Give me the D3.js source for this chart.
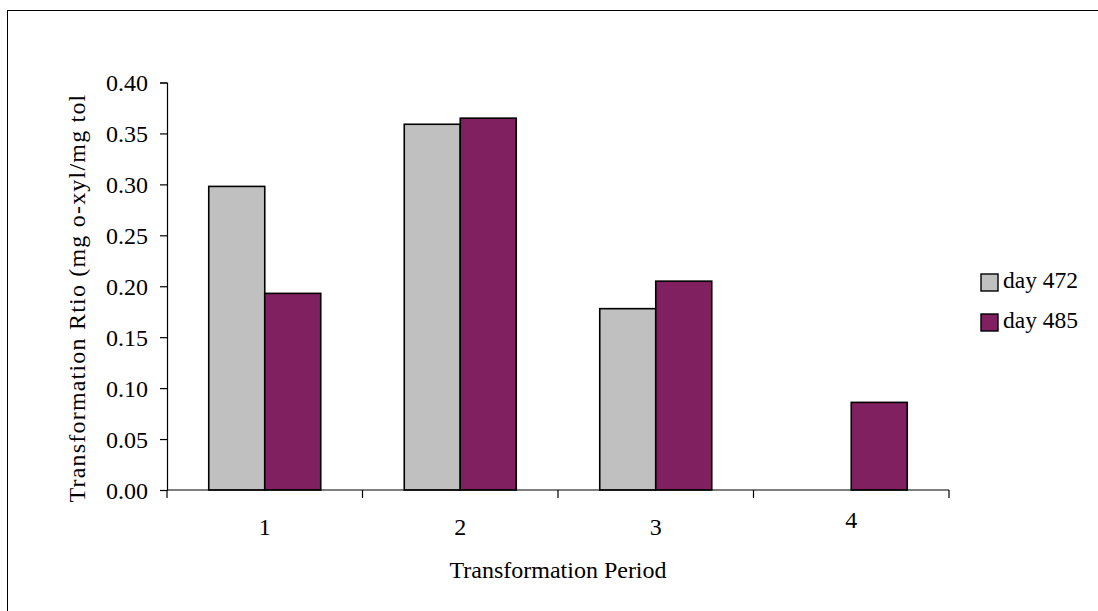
<!DOCTYPE html>
<html>
<head>
<meta charset="utf-8">
<script src="https://cdn.jsdelivr.net/npm/d3@7"></script>
<style>
  html, body { margin: 0; padding: 0; background: #fff; }
  svg { display: block; }
  text { font-family: "Liberation Serif", "Times New Roman", serif; fill: #000; }
</style>
</head>
<body>
<svg id="chart" width="1098" height="611"></svg>
<script>
// Transformation ratio per period for the two sampling days
const periods = ["1", "2", "3", "4"];
const seriesNames = ["day 472", "day 485"];
const day472 = [0.298, 0.359, 0.178, null];
const day485 = [0.193, 0.365, 0.205, 0.086];
const yTicks = [0, 0.05, 0.10, 0.15, 0.20, 0.25, 0.30, 0.35, 0.40];
const colors = ["#c0c0c0", "#802060"];

const svg = d3.select("#chart");
const FONT = 24;

// outer chart-area frame
svg.append("rect")
  .attr("x", 7.5).attr("y", 10.5)
  .attr("width", 1100).attr("height", 620)
  .attr("fill", "none").attr("stroke", "#000").attr("stroke-width", 1);

const plot = { left: 167, right: 949, top: 82.5, bottom: 490 };

const x = d3.scaleBand().domain(periods).range([plot.left, plot.right]).paddingInner(0).paddingOuter(0);
const y = d3.scaleLinear().domain([0, 0.4]).range([plot.bottom, plot.top]);
const barW = 56;

const series = [day472, day485];
series.forEach((vals, si) => {
  svg.append("g").selectAll("rect")
    .data(periods.map((p, i) => ({ p, v: vals[i] })).filter(d => d.v != null))
    .join("rect")
    .attr("x", d => x(d.p) + x.bandwidth() / 2 - barW + si * barW)
    .attr("y", d => y(d.v))
    .attr("width", barW)
    .attr("height", d => y(0) - y(d.v))
    .attr("fill", colors[si])
    .attr("stroke", "#000")
    .attr("stroke-width", 1.6);
});

// y axis
const yAxis = d3.axisLeft(y).tickValues(yTicks).tickFormat(d3.format(".2f")).tickSize(7).tickPadding(12);
const gy = svg.append("g").attr("transform", `translate(${plot.left},0)`).call(yAxis);
gy.select(".domain").attr("stroke", "#000").attr("stroke-width", 1.2);
gy.selectAll(".tick line").attr("stroke", "#000").attr("stroke-width", 1.2);
gy.selectAll(".tick text").attr("font-size", FONT).attr("font-family", "Liberation Serif").attr("dy", "0.34em");

// x axis: ticks sit on the category boundaries
const xLine = svg.append("g");
xLine.append("line")
  .attr("x1", plot.left).attr("x2", plot.right)
  .attr("y1", plot.bottom).attr("y2", plot.bottom)
  .attr("stroke", "#000").attr("stroke-width", 1.2);
const bounds = periods.map(p => x(p)).concat([x(periods[periods.length - 1]) + x.bandwidth()]);
xLine.selectAll("line.tk").data(bounds).join("line").attr("class", "tk")
  .attr("x1", d => d).attr("x2", d => d)
  .attr("y1", plot.bottom).attr("y2", plot.bottom + 8)
  .attr("stroke", "#000").attr("stroke-width", 1.2);
xLine.selectAll("text").data(periods).join("text")
  .attr("x", d => x(d) + x.bandwidth() / 2)
  .attr("y", (d, i) => i === 3 ? 528 : 535)
  .attr("text-anchor", "middle")
  .attr("font-size", FONT)
  .text(d => d);

// axis titles
svg.append("text")
  .attr("x", (plot.left + plot.right) / 2).attr("y", 578)
  .attr("text-anchor", "middle").attr("font-size", FONT)
  .text("Transformation Period");

svg.append("text")
  .attr("transform", "translate(85,298) rotate(-90)")
  .attr("text-anchor", "middle").attr("font-size", FONT)
  .attr("letter-spacing", 1.2)
  .text("Transformation Rtio (mg o-xyl/mg tol");

// legend
const legend = svg.append("g").attr("transform", "translate(981,274)");
seriesNames.forEach((name, i) => {
  legend.append("rect")
    .attr("x", 0).attr("y", i * 40)
    .attr("width", 17).attr("height", 17)
    .attr("fill", colors[i]).attr("stroke", "#000").attr("stroke-width", 1.4);
  legend.append("text")
    .attr("x", 22).attr("y", i * 40 + 14)
    .attr("font-size", 23.5)
    .text(name);
});
</script>
</body>
</html>
